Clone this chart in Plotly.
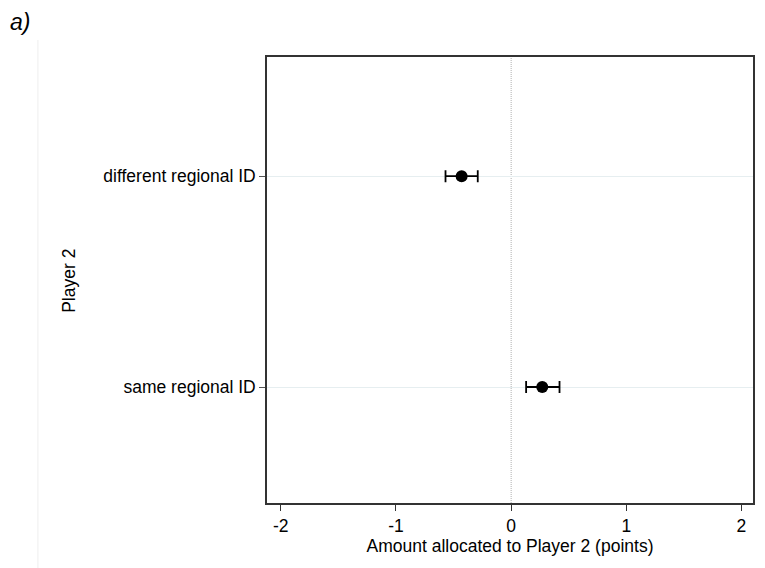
import plotly.graph_objects as go

categories = ["same regional ID", "different regional ID"]
cat_pos = [0, 1]
means = [0.27, -0.43]
ci_low = [0.13, -0.57]
ci_high = [0.42, -0.29]
x_ticks = [-2, -1, 0, 1, 2]

err_plus = [h - m for h, m in zip(ci_high, means)]
err_minus = [m - l for m, l in zip(means, ci_low)]

W, H = 765, 568
L, R, T, B = 267, 10, 57, 65
pw = W - L - R
ph = H - T - B

fig = go.Figure()
fig.add_trace(go.Scatter(
    x=means, y=cat_pos, mode="markers",
    marker=dict(color="black", size=12),
    error_x=dict(type="data", symmetric=False, array=err_plus, arrayminus=err_minus,
                 color="black", thickness=1.8, width=6),
    showlegend=False,
))

fig.add_shape(type="line", xref="x", yref="paper", x0=0, x1=0, y0=0, y1=1,
              line=dict(color="#b0b0b0", width=1, dash="1px,1px"), layer="below")

# faint left page line
fig.add_shape(type="line", xref="paper", yref="paper",
              x0=(37 - L) / pw, x1=(37 - L) / pw,
              y0=-B / ph, y1=(H - 40 - B) / ph,
              line=dict(color="#eeeeee", width=1))

fig.update_layout(
    width=W, height=H,
    margin=dict(l=L, r=R, t=T, b=B),
    paper_bgcolor="white", plot_bgcolor="white",
    font=dict(family="Liberation Sans, Arial, sans-serif", size=17.5, color="black"),
    xaxis=dict(range=[-2.12, 2.1], tickvals=x_ticks, ticktext=[str(v) for v in x_ticks],
               showgrid=False, zeroline=False, showline=True, linecolor="#333333",
               linewidth=1.5, mirror=True, ticks="outside", ticklen=6, tickcolor="#333333",
               tickfont=dict(size=17.5),
               title=dict(text="Amount allocated to Player 2 (points)", standoff=4,
                          font=dict(size=17.5))),
    yaxis=dict(range=[-0.55, 1.565], tickvals=cat_pos, ticktext=categories,
               showgrid=True, gridcolor="#e6eef0", gridwidth=1, zeroline=False,
               showline=True, linecolor="#333333", linewidth=1.5, mirror=True,
               ticks="outside", ticklen=6, tickcolor="#555555", tickfont=dict(size=17.5)),
    annotations=[
        dict(text="Player 2", xref="paper", yref="paper", x=(68 - L) / pw,
             y=(H - 281 - B) / ph, textangle=-90, showarrow=False, xanchor="center",
             yanchor="middle", font=dict(size=17.5)),
        dict(text="<i>a)</i>", xref="paper", yref="paper", x=(7 - L) / pw,
             y=(H - 22 - B) / ph, showarrow=False, xanchor="left", yanchor="middle",
             font=dict(size=23)),
    ],
)

fig.write_html("out.html")
